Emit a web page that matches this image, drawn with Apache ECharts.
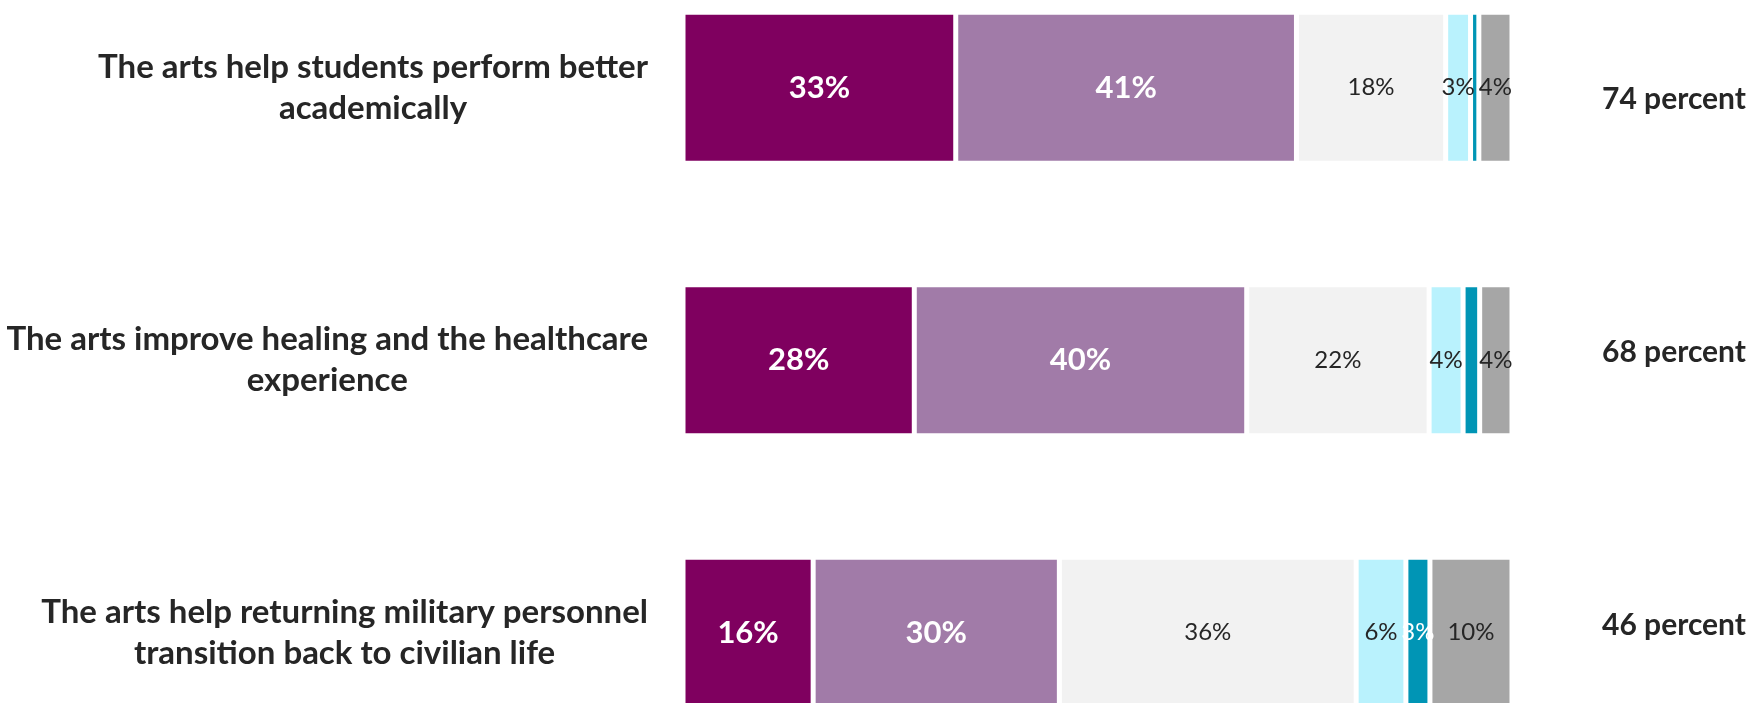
<!DOCTYPE html>
<html>
<head>
<meta charset="utf-8">
<title>Arts benefits</title>
<script src="https://cdn.jsdelivr.net/npm/echarts@6/dist/echarts.min.js"></script>
<style>
  html, body { margin: 0; padding: 0; background: #fff; }
  #chart { width: 1750px; height: 703px; }
</style>
</head>
<body>
<div id="chart"></div>
<script>
// statements, top to bottom
var statements = [
  'The arts help students perform better\nacademically',
  'The arts improve healing and the healthcare\nexperience',
  'The arts help returning military personnel\ntransition back to civilian life'
];
// percent of respondents
var stronglyAgree    = [32.9, 27.9, 15.7];
var somewhatAgree    = [41.1, 40.1, 29.7];
var neutral          = [18.0, 22.0, 35.8];
var somewhatDisagree = [3.0, 4.1, 6.0];
var stronglyDisagree = [1.0, 2.0, 2.9];
var dontKnow         = [4.0, 3.9, 9.9];
// labels on the right
var totals = ['74 percent', '68 percent', '46 percent'];

var FONT = 'Lato';
var TEXT = '#262626';

var chart = echarts.init(document.getElementById('chart'));

function pct(p) {
  return Math.round(p.value) + '%';
}

function makeSeries(name, data, color, bold, labelColor, minShow) {
  return {
    name: name,
    type: 'bar',
    stack: 'all',
    data: data,
    barWidth: 151,
    itemStyle: { color: color, borderColor: '#fff', borderWidth: 2.5 },
    label: {
      show: true,
      position: 'inside',
      color: labelColor,
      fontFamily: FONT,
      fontWeight: bold ? 'bold' : 'normal',
      fontSize: bold ? 31 : 24,
      formatter: function(p) {
        if (minShow && p.value < minShow) return '';
        return pct(p);
      }
    },
    emphasis: { disabled: true }
  };
}

var totalStyle = { fontFamily: FONT, fontWeight: 'bold', fontSize: 30, color: TEXT };

var option = {
  animation: false,
  grid: {
    left: 683,
    width: 829,
    top: -48.5,
    height: 817.5,
    outerBoundsMode: 'none'
  },
  xAxis: {
    type: 'value',
    min: 0,
    max: 100,
    show: false
  },
  yAxis: [{
    type: 'category',
    inverse: true,
    data: statements,
    axisLine: { show: false },
    axisTick: { show: false },
    axisLabel: {
      margin: 35,
      align: 'right',
      formatter: function(v) {
        return v.split('\n').map(function(s) { return '{a|' + s + '}'; }).join('\n');
      },
      rich: {
        a: {
          align: 'center',
          fontFamily: FONT,
          fontWeight: 'bold',
          fontSize: 33,
          lineHeight: 41,
          color: TEXT
        }
      }
    }
  }, {
    type: 'category',
    inverse: true,
    position: 'right',
    data: totals,
    axisLine: { show: false },
    axisTick: { show: false },
    axisLabel: {
      margin: 90,
      align: 'left',
      formatter: function(v, i) {
        return '{s' + i + '|' + v + '}';
      },
      rich: {
        s0: Object.assign({ padding: [24, 0, 0, 0] }, totalStyle),
        s1: Object.assign({ padding: [0, 0, 15, 0] }, totalStyle),
        s2: Object.assign({ padding: [0, 0, 15, 0] }, totalStyle)
      }
    }
  }],
  series: [
    makeSeries('Strongly agree', stronglyAgree, '#7F005F', true, '#fff'),
    makeSeries('Somewhat agree', somewhatAgree, '#A17BA8', true, '#fff'),
    makeSeries('Neither', neutral, '#F2F2F2', false, TEXT),
    makeSeries('Somewhat disagree', somewhatDisagree, '#B9F2FD', false, TEXT),
    makeSeries('Strongly disagree', stronglyDisagree, '#0095B5', false, '#fff', 2.5),
    makeSeries("Don't know", dontKnow, '#A6A6A6', false, TEXT)
  ]
};

chart.setOption(option);
</script>
</body>
</html>
